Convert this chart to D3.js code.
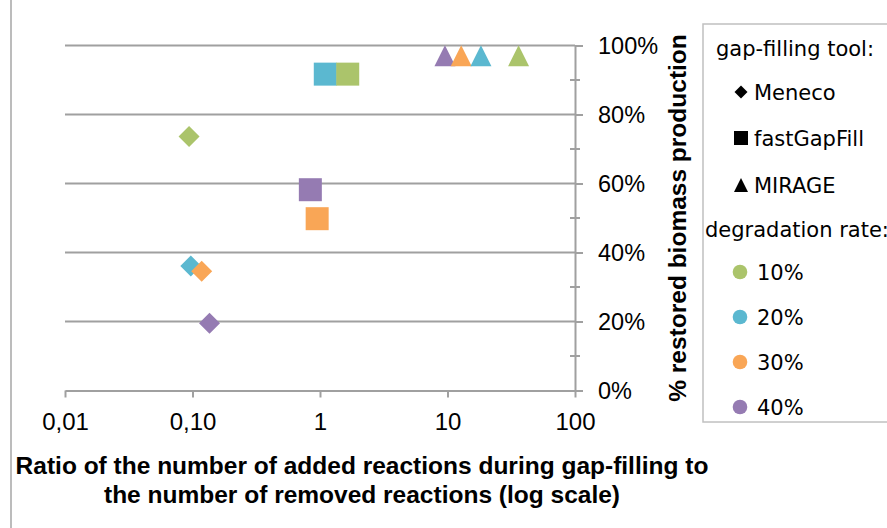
<!DOCTYPE html>
<html>
<head>
<meta charset="utf-8">
<script src="https://cdn.jsdelivr.net/npm/d3@7"></script>
<style>
  body { margin: 0; background: #fff; }
  svg { display: block; }
</style>
</head>
<body>
<svg id="chart" width="887" height="528"></svg>
<script>
// values
const rates = ["10%", "20%", "30%", "40%"];
const rateColors = ["#abc46b", "#5bb8d0", "#f9a656", "#957bb2"];
const tools = ["Meneco", "fastGapFill", "MIRAGE"];

const menecoRatio = [0.094, 0.097, 0.118, 0.136];
const menecoRestored = [0.736, 0.361, 0.346, 0.195];
const fastGapFillRatio = [1.65, 1.10, 0.95, 0.84];
const fastGapFillRestored = [0.917, 0.917, 0.498, 0.582];
const mirageRatio = [36.1, 18.3, 12.8, 9.55];
const mirageRestored = [0.97, 0.97, 0.97, 0.97];

const xTicks = [0.01, 0.1, 1, 10, 100];
const xTickLabels = ["0,01", "0,10", "1", "10", "100"];
const yTicks = [0, 0.2, 0.4, 0.6, 0.8, 1];

const svg = d3.select("#chart");
const plotLeft = 65, plotRight = 575, plotTop = 45.5, plotBottom = 390.5;
const axisFont = "Liberation Sans, Arial, sans-serif";

const x = d3.scaleLog().domain([0.01, 100]).range([plotLeft, plotRight]);
const y = d3.scaleLinear().domain([0, 1]).range([plotBottom, plotTop]);

// marker shapes like the spreadsheet ones (size = width in px)
const diamond = {
  draw(ctx, s) { const h = s / 2; ctx.moveTo(0, -h); ctx.lineTo(h, 0); ctx.lineTo(0, h); ctx.lineTo(-h, 0); ctx.closePath(); }
};
const square = {
  draw(ctx, s) { const h = s / 2; ctx.rect(-h, -h, s, s); }
};
const triangle = {
  draw(ctx, s) { const h = s / 2; ctx.moveTo(0, -h); ctx.lineTo(h, h); ctx.lineTo(-h, h); ctx.closePath(); }
};

// outer frame line on the left
svg.append("line")
  .attr("x1", 11).attr("x2", 11).attr("y1", 0).attr("y2", 528)
  .attr("stroke", "#a6a6a6").attr("stroke-width", 1.5);

// horizontal gridlines
svg.append("g")
  .selectAll("line")
  .data(yTicks.slice(1))
  .join("line")
  .attr("x1", plotLeft).attr("x2", plotRight)
  .attr("y1", d => y(d)).attr("y2", d => y(d))
  .attr("stroke", "#a0a0a0").attr("stroke-width", 2);

// x axis
const xAxis = svg.append("g")
  .attr("transform", "translate(0," + plotBottom + ")")
  .call(d3.axisBottom(x).tickValues(xTicks).tickFormat((d, i) => xTickLabels[i]).tickSize(7).tickSizeOuter(0).tickPadding(15));
xAxis.select(".domain").attr("stroke", "#a0a0a0").attr("stroke-width", 2);
xAxis.selectAll(".tick line").attr("stroke", "#a0a0a0").attr("stroke-width", 2);
xAxis.selectAll("text")
  .attr("font-family", axisFont).attr("font-size", 24).attr("fill", "#000");

// y axis on the right
const yAxis = svg.append("g")
  .attr("transform", "translate(" + plotRight + ",0)")
  .call(d3.axisRight(y).tickValues(yTicks).tickFormat(d3.format(".0%")).tickSize(8).tickSizeOuter(0).tickPadding(15));
yAxis.select(".domain").attr("stroke", "#a0a0a0").attr("stroke-width", 2);
yAxis.selectAll(".tick line").attr("stroke", "#a0a0a0").attr("stroke-width", 2);
yAxis.selectAll("text")
  .attr("font-family", axisFont).attr("font-size", 23.5).attr("fill", "#000")
  .attr("text-anchor", "start");

// minor ticks at 10% steps
svg.append("g")
  .selectAll("line")
  .data([0.1, 0.3, 0.5, 0.7, 0.9])
  .join("line")
  .attr("x1", plotRight - 5).attr("x2", plotRight + 5)
  .attr("y1", d => y(d)).attr("y2", d => y(d))
  .attr("stroke", "#a0a0a0").attr("stroke-width", 2);

// points
const series = [
  { ratio: menecoRatio, restored: menecoRestored, shape: diamond, size: 21, order: [0, 1, 2, 3] },
  { ratio: fastGapFillRatio, restored: fastGapFillRestored, shape: square, size: 23, order: [1, 0, 2, 3] },
  { ratio: mirageRatio, restored: mirageRestored, shape: triangle, size: 21, order: [3, 2, 1, 0] }
];
const marks = svg.append("g");
series.forEach(s => {
  marks.selectAll(null)
    .data(s.order)
    .join("path")
    .attr("d", d3.symbol().type(s.shape).size(s.size))
    .attr("transform", i => "translate(" + x(s.ratio[i]) + "," + y(s.restored[i]) + ")")
    .attr("fill", i => rateColors[i]);
});

// axis titles
svg.append("text")
  .attr("transform", "translate(686,218) rotate(-90)")
  .attr("text-anchor", "middle")
  .attr("font-family", axisFont).attr("font-size", 24.5).attr("font-weight", "bold")
  .text("% restored biomass production");

const xTitle = svg.append("text")
  .attr("text-anchor", "middle")
  .attr("font-family", axisFont).attr("font-size", 24.5).attr("font-weight", "bold");
xTitle.append("tspan").attr("x", 362).attr("y", 474).text("Ratio of the number of added reactions during gap-filling to");
xTitle.append("tspan").attr("x", 362).attr("y", 503).text("the number of removed reactions (log scale)");

// legend
const lg = svg.append("g");
lg.append("rect")
  .attr("x", 703).attr("y", 24).attr("width", 200).attr("height", 398)
  .attr("fill", "none").attr("stroke", "#c0c0c0").attr("stroke-width", 1.5);

const lgFont = "DejaVu Sans, sans-serif";
const lgSize = 21;
lg.append("text").attr("x", 716).attr("y", 56).attr("font-family", lgFont).attr("font-size", lgSize).text("gap-filling tool:");

const toolY = [92, 138, 185];
const toolShapes = [diamond, square, triangle];
const toolSizes = [13, 14, 14];
tools.forEach((t, i) => {
  lg.append("path")
    .attr("d", d3.symbol().type(toolShapes[i]).size(toolSizes[i])())
    .attr("transform", "translate(741," + toolY[i] + ")")
    .attr("fill", "#000");
  lg.append("text").attr("x", 754).attr("y", toolY[i] + 8).attr("font-family", lgFont).attr("font-size", lgSize).text(t);
});

lg.append("text").attr("x", 705).attr("y", 237).attr("font-family", lgFont).attr("font-size", lgSize).text("degradation rate:");

const rateY = [272, 317, 362, 407];
rates.forEach((r, i) => {
  lg.append("circle").attr("cx", 740).attr("cy", rateY[i]).attr("r", 7.3).attr("fill", rateColors[i]);
  lg.append("text").attr("x", 757).attr("y", rateY[i] + 8).attr("font-family", lgFont).attr("font-size", lgSize).text(r);
});
</script>
</body>
</html>
